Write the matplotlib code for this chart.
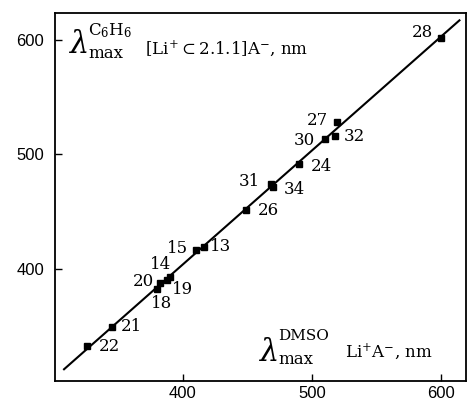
import matplotlib.pyplot as plt

plt.rcParams['mathtext.fontset'] = 'dejavuserif'

# lambda_max in DMSO (x) vs in benzene with cryptand (y), nm
labels = ['28', '27', '32', '30', '24', '31', '34', '26', '13', '15',
          '14', '19', '20', '18', '21', '22']
x_dmso = [600, 519, 518, 510, 490, 468, 470, 449, 416, 410,
          390, 388, 382, 380, 345, 326]
y_c6h6 = [602, 528, 516, 513, 491, 474, 471, 451, 419, 416,
          393, 390, 387, 382, 349, 332]
# label offsets in pixels from each point
offsets = [(-19, 5), (-19, 2), (19, -1), (-21, -1), (22, -2), (-21, 2), (21, -2),
           (22, 0), (17, 0), (-18, 2), (-9, 12), (15, -9), (-16, 2), (4, -14),
           (20, 0), (22, 0)]

fit_x = [308, 614]
fit_y = [312, 617]

W, H = 468, 405
fig = plt.figure(figsize=(W / 100, H / 100), dpi=100)
ax = fig.add_axes([0.1175, 0.06, 0.878, 0.9067])

ax.plot(fit_x, fit_y, color='black', lw=1.5)
ax.plot(x_dmso, y_c6h6, 's', color='black', ms=4)

for lab, x, y, (dx, dy) in zip(labels, x_dmso, y_c6h6, offsets):
    ax.annotate(lab, (x, y), xytext=(dx, dy), textcoords='offset pixels',
                ha='center', va='center', fontsize=12, family='DejaVu Serif')


def put(px, py, s, size):
    # px, py: pixel position of the baseline start, from top-left
    fig.text(px / W, 1 - py / H, s, fontsize=size, family='DejaVu Serif',
             ha='left', va='baseline')


# axis captions drawn inside the box
put(68, 53, r'$\lambda$', 22)
put(88, 35, r'C$_6$H$_6$', 12)
put(88, 58, 'max', 12)
put(145, 54, r'[Li$^{+}$$\subset$2.1.1]A$^{-}$, nm', 12)

put(258, 361, r'$\lambda$', 22)
put(278, 340, 'DMSO', 11)
put(278, 364, 'max', 12)
put(345, 357, r'Li$^{+}$A$^{-}$, nm', 12)

ax.set_xlim(301, 619)
ax.set_ylim(302, 623)
ax.set_xticks([400, 500, 600])
ax.set_yticks([400, 500, 600])
ax.tick_params(direction='in', length=5, width=1, labelsize=12, pad=8)
ax.tick_params(axis='x', pad=4)
for lbl in ax.get_xticklabels() + ax.get_yticklabels():
    lbl.set_family('Liberation Sans')
for s in ax.spines.values():
    s.set_linewidth(1.3)

fig.savefig('out.png', dpi=100)
